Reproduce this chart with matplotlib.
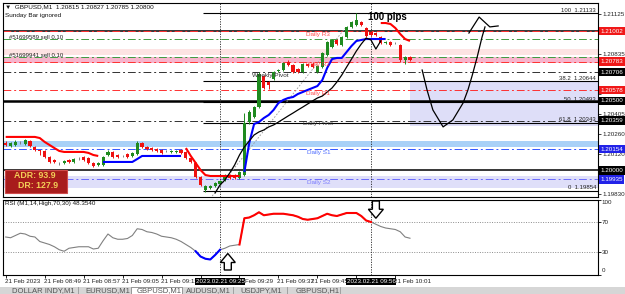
import numpy as np
import matplotlib
matplotlib.use("Agg")
import matplotlib.pyplot as plt
import matplotlib.transforms as mtransforms
from matplotlib.patches import Rectangle, FancyArrow

plt.rcParams["font.family"] = ["Liberation Sans", "DejaVu Sans"]
plt.rcParams["font.size"] = 4.5

# GBPUSD M1, bars are minutes after 21 Feb 2023 08:41
opens = [
    1.20197, 1.20176, 1.20183, 1.20205, 1.20190, 1.20212, 1.20169, 1.20147, 1.20140, 1.20097,
    1.20075, 1.20061, 1.20054, 1.20075, 1.20061, 1.20090, 1.20097, 1.20090, 1.20054, 1.20039,
    1.20039, 1.20111, 1.20133, 1.20111, 1.20104, 1.20118, 1.20104, 1.20118, 1.20197, 1.20169,
    1.20161, 1.20154, 1.20147, 1.20140, 1.20133, 1.20133, 1.20147, 1.20133, 1.20090, 1.20054,
    1.19953, 1.19860, 1.19874, 1.19888, 1.19903, 1.19931, 1.19967, 1.19967, 1.19946, 1.19967,
    1.20348, 1.20384, 1.20456, 1.20679, 1.20636, 1.20658, 1.20715, 1.20722, 1.20780, 1.20758,
    1.20730, 1.20708, 1.20766, 1.20766, 1.20708, 1.20744, 1.20830, 1.20888, 1.20938, 1.20902,
    1.20960, 1.21032, 1.21046, 1.21067, 1.21024, 1.20996, 1.20988, 1.20960, 1.20916, 1.20924,
    1.20916, 1.20902, 1.20794, 1.20816]
highs = [
    1.20212, 1.20205, 1.20219, 1.20212, 1.20226, 1.20219, 1.20176, 1.20147, 1.20147, 1.20104,
    1.20082, 1.20061, 1.20075, 1.20082, 1.20090, 1.20097, 1.20104, 1.20097, 1.20061, 1.20061,
    1.20104, 1.20147, 1.20140, 1.20118, 1.20111, 1.20126, 1.20133, 1.20212, 1.20205, 1.20176,
    1.20169, 1.20161, 1.20154, 1.20147, 1.20147, 1.20147, 1.20154, 1.20140, 1.20097, 1.20061,
    1.19960, 1.19896, 1.19896, 1.19917, 1.19931, 1.19975, 1.19975, 1.19975, 1.19996, 1.20413,
    1.20435, 1.20464, 1.20708, 1.20686, 1.20643, 1.20715, 1.20730, 1.20780, 1.20794, 1.20766,
    1.20737, 1.20773, 1.20773, 1.20780, 1.20758, 1.20852, 1.20931, 1.20945, 1.20945, 1.20967,
    1.21039, 1.21075, 1.21132, 1.21075, 1.21032, 1.21003, 1.20996, 1.20967, 1.20931, 1.20931,
    1.20924, 1.20909, 1.20823, 1.20823]
lows = [
    1.20176, 1.20169, 1.20176, 1.20190, 1.20183, 1.20169, 1.20140, 1.20111, 1.20090, 1.20054,
    1.20054, 1.20039, 1.20046, 1.20054, 1.20054, 1.20075, 1.20068, 1.20046, 1.20025, 1.20032,
    1.20032, 1.20104, 1.20090, 1.20090, 1.20097, 1.20090, 1.20097, 1.20111, 1.20161, 1.20147,
    1.20140, 1.20133, 1.20118, 1.20133, 1.20126, 1.20126, 1.20118, 1.20082, 1.20054, 1.19946,
    1.19888, 1.19845, 1.19867, 1.19881, 1.19896, 1.19924, 1.19939, 1.19939, 1.19939, 1.19960,
    1.20334, 1.20377, 1.20449, 1.20586, 1.20586, 1.20650, 1.20708, 1.20715, 1.20751, 1.20701,
    1.20701, 1.20701, 1.20744, 1.20737, 1.20701, 1.20737, 1.20823, 1.20880, 1.20902, 1.20895,
    1.20952, 1.21024, 1.21039, 1.21039, 1.20960, 1.20967, 1.20967, 1.20909, 1.20909, 1.20895,
    1.20909, 1.20780, 1.20766, 1.20787]
closes = [
    1.20183, 1.20197, 1.20205, 1.20201, 1.20219, 1.20176, 1.20147, 1.20140, 1.20097, 1.20061,
    1.20061, 1.20057, 1.20068, 1.20061, 1.20082, 1.20086, 1.20075, 1.20054, 1.20032, 1.20054,
    1.20097, 1.20133, 1.20097, 1.20097, 1.20100, 1.20097, 1.20126, 1.20197, 1.20169, 1.20154,
    1.20147, 1.20140, 1.20126, 1.20136, 1.20140, 1.20140, 1.20126, 1.20090, 1.20061, 1.19953,
    1.19896, 1.19888, 1.19888, 1.19910, 1.19924, 1.19967, 1.19946, 1.19946, 1.19989, 1.20341,
    1.20420, 1.20456, 1.20694, 1.20593, 1.20614, 1.20708, 1.20722, 1.20773, 1.20758, 1.20708,
    1.20708, 1.20766, 1.20751, 1.20744, 1.20751, 1.20845, 1.20924, 1.20938, 1.20909, 1.20960,
    1.21032, 1.21067, 1.21082, 1.21046, 1.20967, 1.20974, 1.20974, 1.20916, 1.20924, 1.20902,
    1.20913, 1.20794, 1.20816, 1.20794]

rsi_values = [
    50, 49, 52, 55, 54, 51, 50, 44, 42, 40,
    37, 33, 31, 35, 36, 37, 37, 37, 34, 35,
    45, 54, 49, 47, 47, 48, 52, 61, 60, 57,
    56, 54, 51, 50, 49, 47, 44, 40, 36, 31,
    24, 21, 20, 26, 33, 35, 38, 39, 40, 75,
    76, 79, 83, 79, 80, 81, 81, 81, 80, 79,
    77, 74, 73, 74, 75, 78, 81, 79, 78, 80,
    82, 82, 82, 78, 72, 70, 67, 64, 62, 61,
    60, 57, 50, 48.354]

# trailing stop indicator segments: (first bar, values)
stop_red_1 = (0, [1.20241, 1.20241, 1.20241, 1.20241, 1.20241, 1.20241, 1.20241, 1.20233,
                  1.20205, 1.20183, 1.20161, 1.20140, 1.20133, 1.20133, 1.20133, 1.20133,
                  1.20133, 1.20126, 1.20111, 1.20104])
stop_blue_1 = (20, [1.20061, 1.20061, 1.20061, 1.20061, 1.20061, 1.20061, 1.20061, 1.20082,
                    1.20104, 1.20104, 1.20104, 1.20104, 1.20104, 1.20104, 1.20104, 1.20104,
                    1.20104])
stop_red_2 = (37, [1.20161, 1.20104, 1.20054, 1.20003, 1.19967, 1.19960, 1.19960, 1.19960,
                   1.19960, 1.19960, 1.19960, 1.19960])
stop_blue_2 = (49, [1.19989, 1.20197, 1.20334, 1.20348, 1.20377, 1.20399, 1.20435, 1.20485,
                    1.20507, 1.20521, 1.20528, 1.20550, 1.20564, 1.20579, 1.20593, 1.20607,
                    1.20650, 1.20737, 1.20801, 1.20809, 1.20809, 1.20852, 1.20895, 1.20931,
                    1.20938, 1.20945, 1.20945, 1.20945, 1.20945, 1.20945])
stop_red_3 = (77, [1.21060, 1.21060, 1.21053, 1.21024, 1.20981, 1.20945, 1.20931])

ma_start = 43
ma_values = [1.19838, 1.19896, 1.19931, 1.19982, 1.20039, 1.20111, 1.20169, 1.20212, 1.20255,
             1.20277, 1.20291, 1.20313, 1.20327, 1.20348, 1.20370, 1.20392, 1.20413, 1.20435,
             1.20456, 1.20478, 1.20500, 1.20521, 1.20535, 1.20564, 1.20593, 1.20636, 1.20686,
             1.20744, 1.20801, 1.20859, 1.20909, 1.20952, 1.20938, 1.20873, 1.20931]

# drawn objects
trend_bars = [42.4, 69.7]
trend_prices = [1.19816, 1.21024]
curve_bars = [85.5, 86.5, 87.7, 89.8, 91.8, 93.9, 94.9, 95.8, 96.8, 97.8, 98.4]
curve_prices = [1.20722, 1.20579, 1.20435, 1.20313, 1.20363, 1.20485, 1.20579, 1.20686,
                1.20816, 1.20960, 1.21032]
head_bars = [95.1, 97.2, 99.4, 101.1]
head_prices = [1.20988, 1.21103, 1.21032, 1.21039]
box_bars = [83.0, 121.6]
box_prices = [1.20320, 1.20644]

fib_start = 40.5
fib_levels = [1.21133, 1.20644, 1.20493, 1.20343, 1.19854]
fib_names = ["100", "38.2", "50", "61.8", "0"]

pivot_names = ["Daily R3", "Daily R2", "Daily R1", "Daily Pivot", "Daily S1", "Daily S2"]
pivot_prices = [1.21002, 1.20783, 1.20578, 1.20359, 1.20154, 1.19935]
pivot_colors = ["#ff3030", "#ff3030", "#ff3030", "#303030", "#3355ff", "#6a6aff"]
weekly_pivot = 1.20706
round_levels = [1.21000, 1.20500, 1.20000]
order_names = ["#51699589 sell 0.10", "#51699941 sell 0.10"]
order_prices = [1.20945, 1.20816]

price_ticks = [1.21125, 1.20980, 1.20835, 1.20695, 1.20550, 1.20405, 1.20260,
               1.20120, 1.19975, 1.19830]
hidden_ticks = [1.20980, 1.20695, 1.20550, 1.19975]   # covered by the coloured labels
label_prices = [1.21002, 1.20783, 1.20706, 1.20578, 1.20500, 1.20359, 1.20154, 1.20000, 1.19935]
label_colors = ["#f01818", "#f01818", "black", "#f01818", "black", "black",
                "#2222e8", "black", "#2222e8"]

time_ticks = [0, 8, 16, 24, 32, 40, 48, 56, 64, 72, 80]
time_labels = ["21 Feb 2023", "21 Feb 08:49", "21 Feb 08:57", "21 Feb 09:05", "21 Feb 09:13",
               "", "Feb 09:29", "21 Feb 09:37", "21 Feb 09:45", "", "21 Feb 10:01"]
cursor_bars = [44, 75]
cursor_labels = ["2023.02.21 09:25", "2023.02.21 09:56"]

GREEN = "#1f8a1f"
RED = "#ee1111"
DASHDOT = (0, (8, 3, 2, 3))

W, H = 625, 294
fig = plt.figure(figsize=(W / 100, H / 100), dpi=100)
ax = fig.add_axes([3 / W, 1 - 197 / H, 595 / W, 194 / H])
rsi_ax = fig.add_axes([3 / W, 1 - 274.5 / H, 595 / W, 75 / H])
xlim = (-0.55, 121.6)

# ---- main price panel ----
ax.set_xlim(*xlim)
ax.set_ylim(1.19809, 1.21204)

ax.axhspan(1.20830, 1.20872, color="#fde3e3", lw=0, zorder=0)
ax.axhspan(1.20773, 1.20816, color="#f7b4cc", lw=0, zorder=0)
ax.axhspan(1.20169, 1.20212, color="#a9d1f7", lw=0, zorder=0)
ax.axhspan(1.19874, 1.19960, color="#dfdff9", lw=0, zorder=0)
ax.add_patch(Rectangle((box_bars[0], box_prices[0]), box_bars[1] - box_bars[0],
                       box_prices[1] - box_prices[0], fc="#dedef8", ec="none", zorder=0))

for lvl, lw in zip(round_levels, [1.1, 1.8, 1.1]):
    ax.axhline(lvl, color="black", lw=lw, zorder=1)
for p in order_prices:
    ax.axhline(p, color="#3d9a3d", lw=0.7, ls=DASHDOT, zorder=1)
for name, p in zip(order_names, order_prices):
    ax.text(0.7, p + 0.00014, name, ha="left", va="center", fontsize=4.3, color="#222", zorder=6)

for name, p, col in zip(pivot_names, pivot_prices, pivot_colors):
    ax.axhline(p, color=col, lw=0.7, ls=DASHDOT, zorder=1)
    ax.text(64.2, p - 0.00004, name, ha="center", va="top", fontsize=4.6, color=col,
            alpha=0.85, zorder=7)
ax.axhline(weekly_pivot, color="#303030", lw=0.7, ls=DASHDOT, zorder=1)
ax.text(54.3, weekly_pivot - 0.00004, "Weekly Pivot", ha="center", va="top", fontsize=4.6,
        color="#303030", zorder=7)

for lvl, name in zip(fib_levels, fib_names):
    ax.hlines(lvl, fib_start, xlim[1], color="black", lw=0.8, zorder=1)
    ax.text(0.997, lvl + 0.00002, f"{name}  {lvl:.5f}", transform=ax.get_yaxis_transform(),
            ha="right", va="bottom", fontsize=4.3, color="#222", zorder=6)

ax.plot(trend_bars, trend_prices, color="#999999", lw=0.6, ls=(0, (2, 2)), zorder=2)

# candles
x = np.arange(len(opens))
o = np.array(opens)
c = np.array(closes)
flat = np.abs(c - o) < 0.00005
cols = np.where(flat, "#808080", np.where(c > o, GREEN, RED))
ax.vlines(x, lows, highs, colors=cols, lw=0.7, zorder=4)
body = np.where(flat, 0.000025, np.abs(c - o))
bottom = np.where(flat, (o + c) / 2 - 0.0000125, np.minimum(o, c))
ax.bar(x, body, bottom=bottom, width=0.65, color=cols, lw=0, zorder=5)

for (start, vals), col in [(stop_red_1, "#ff0000"), (stop_blue_1, "#0000ff"),
                           (stop_red_2, "#ff0000"), (stop_blue_2, "#0000ff"),
                           (stop_red_3, "#ff0000")]:
    ax.plot(np.arange(start, start + len(vals)), vals, color=col, lw=1.5, zorder=6,
            solid_capstyle="butt")
ax.plot(np.arange(ma_start, ma_start + len(ma_values)), ma_values, color="black", lw=0.9,
        zorder=6)

ax.plot(curve_bars, curve_prices, color="black", lw=0.9, zorder=6)
ax.plot(head_bars, head_prices, color="black", lw=0.9, zorder=6)
ax.text(74.4, 1.21103, "100 pips", fontsize=7, fontweight="bold", va="center", ha="left",
        zorder=7)

for b in cursor_bars:
    ax.axvline(b, color="#222", lw=0.6, ls=(0, (1.5, 1.5)), zorder=3)
    rsi_ax.axvline(b, color="#222", lw=0.6, ls=(0, (1.5, 1.5)), zorder=3)

ax.text(0.004, 0.982, "\u25bc  GBPUSD,M1  1.20815 1.20827 1.20785 1.20800",
        transform=ax.transAxes, ha="left", va="center", fontsize=4.6, color="#111")
ax.text(0.004, 0.938, "Sunday Bar ignored", transform=ax.transAxes, ha="left",
        va="center", fontsize=4.6, color="#111")

# ADR box
ax.add_patch(Rectangle((2 / 595, 4 / 194), 62 / 595, 23 / 194, transform=ax.transAxes,
                       fc="#a81c1c", ec="#cf4a4a", lw=0.8, zorder=8))
ax.text(53 / 595, 21 / 194, "ADR: 93.9", transform=ax.transAxes, ha="right", va="center",
        fontsize=6.3, fontweight="bold", color="#f3cf57", zorder=9)
ax.text(55 / 595, 11 / 194, "DR: 127.9", transform=ax.transAxes, ha="right", va="center",
        fontsize=6.3, fontweight="bold", color="#f3cf57", zorder=9)

ax.set_xticks([])
ax.yaxis.tick_right()
ax.set_yticks(price_ticks)
ax.set_yticklabels(["" if p in hidden_ticks else f"{p:.5f}" for p in price_ticks])
ax.tick_params(axis="y", labelsize=4.5, length=2, width=0.6, pad=1.5, colors="#222")
for sp in ax.spines.values():
    sp.set_linewidth(0.8)

for p, col in zip(label_prices, label_colors):
    ax.text(1.004, p, f"{p:.5f}", transform=ax.get_yaxis_transform(), ha="left",
            va="center", fontsize=4.5, color="white", zorder=10, clip_on=False,
            bbox=dict(boxstyle="square,pad=0.25", fc=col, ec="none"))

# ---- RSI panel ----
rsi_ax.set_xlim(*xlim)
rsi_ax.set_ylim(0, 100)
for lvl in (30, 70):
    rsi_ax.axhline(lvl, color="#8c8c8c", lw=0.7, ls=(0, (1, 1.5)), zorder=1)

rsi = np.array(rsi_values, dtype=float)
xr = np.arange(len(rsi))
rsi_ax.plot(xr, rsi, color="#808080", lw=0.8, zorder=3)
for mask, col in [(rsi > 70, "#ff0000"), (rsi < 30, "#0000ff")]:
    grow = mask | np.roll(mask, 1) | np.roll(mask, -1)
    rsi_ax.plot(xr, np.where(grow, rsi, np.nan), color=col, lw=1.5, zorder=4)

rsi_ax.text(0.004, 0.94, "RSI (M1,14,High,70,30) 48.3540", transform=rsi_ax.transAxes,
            ha="left", va="center", fontsize=4.5, color="#111")
rsi_ax.set_yticks([0, 30, 70, 100])
rsi_ax.set_yticklabels([])
rsi_ax.yaxis.tick_right()
rsi_ax.tick_params(axis="y", length=2, width=0.6)
for v, t in [(96, "100"), (70, "70"), (30, "30"), (6, "0")]:
    rsi_ax.text(1.006, v, t, transform=rsi_ax.get_yaxis_transform(), ha="left",
                va="center", fontsize=4.5, color="#222")

rsi_ax.set_xticks(time_ticks)
rsi_ax.set_xticklabels([])
rsi_ax.tick_params(axis="x", length=2, width=0.6)
xlab = rsi_ax.get_xaxis_transform()
label_shift = {"Feb 09:29": 1.2, "21 Feb 09:45": -1.3}
for b, t in zip(time_ticks, time_labels):
    rsi_ax.text(b + label_shift.get(t, -0.2), -0.06, t, transform=xlab, ha="left", va="top",
                fontsize=4.5, color="#222", clip_on=False)
for sp in rsi_ax.spines.values():
    sp.set_linewidth(0.8)
for b, t in zip(cursor_bars, cursor_labels):
    rsi_ax.text(b, -0.06, t, transform=xlab, ha="center", va="top", fontsize=4.5,
                color="white", zorder=10, clip_on=False,
                bbox=dict(boxstyle="square,pad=0.15", fc="black", ec="none"))

# outlined arrows in the RSI pane (display pixels)
ident = mtransforms.IdentityTransform()
for (bx, v0, v1) in [(45.6, 6, 28), (76.0, 98, 75)]:
    x0, y0 = rsi_ax.transData.transform((bx, v0))
    _, y1 = rsi_ax.transData.transform((bx, v1))
    fig.patches.append(FancyArrow(x0, y0, 0, y1 - y0, width=7, head_width=15, head_length=9,
                                  length_includes_head=True, fc="white", ec="black", lw=1.0,
                                  transform=ident, figure=fig, zorder=10))

# tab strip along the bottom
fig.patches.append(Rectangle((0, 0), 1, 7 / H, transform=fig.transFigure, fc="#d6d6d6",
                             ec="none", zorder=0))
fig.patches.append(Rectangle((131 / W, 0), 51 / W, 7 / H, transform=fig.transFigure,
                             fc="white", ec="#888", lw=0.6, zorder=1))
for xt, t in [(12, "DOLLAR INDY,M1"), (85, "EURUSD,M1"), (137, "GBPUSD,M1"),
              (186, "AUDUSD,M1"), (240, "USDJPY,M1"), (296, "GBPUSD,H1")]:
    fig.text(xt / W, 6.5 / H, t, ha="left", va="top", fontsize=5.5, color="#555")
for xs in (78, 131, 182, 233, 287, 340):
    fig.lines.append(plt.Line2D([xs / W, xs / W], [0, 7 / H], transform=fig.transFigure,
                                color="#999", lw=0.6))

fig.savefig("out.png", dpi=100)
